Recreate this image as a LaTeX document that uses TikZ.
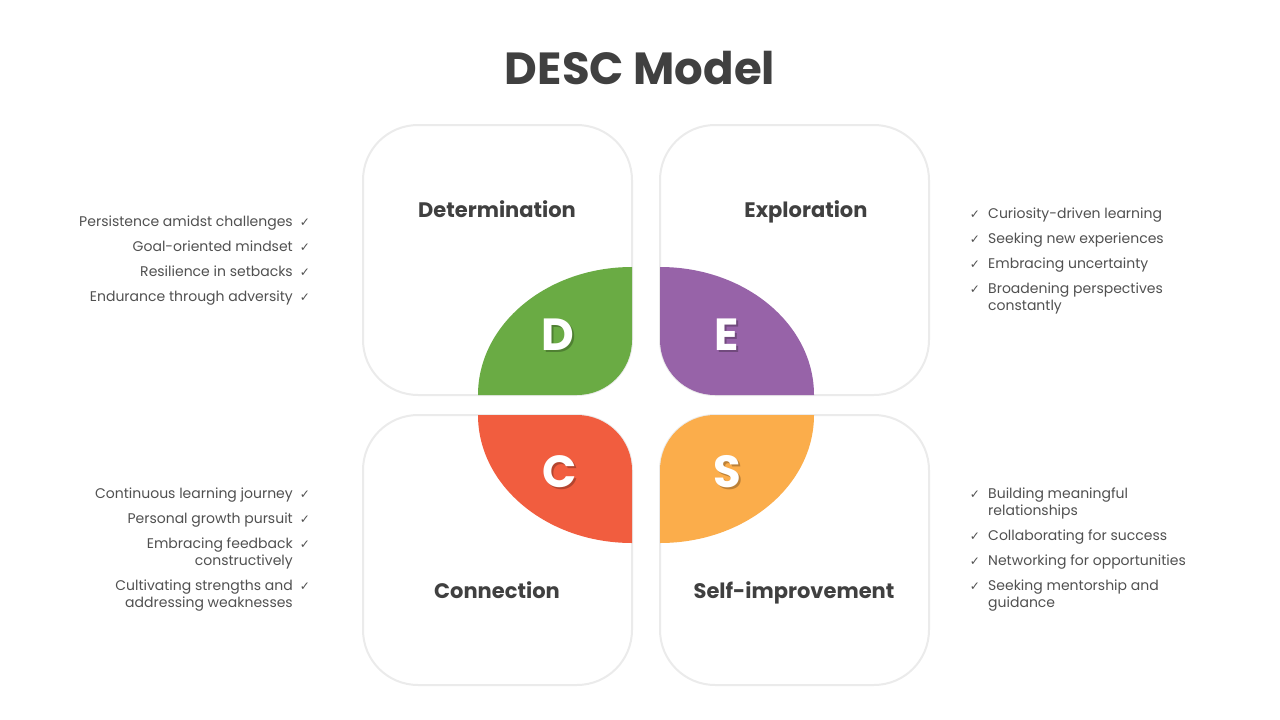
\documentclass[tikz,border=0pt]{standalone}
\usepackage{fontspec}
\setmainfont{Poppins}
\newfontfamily\symfont{DejaVu Sans}
\usetikzlibrary{positioning}
\definecolor{dgreen}{HTML}{6AAB44}
\definecolor{dpurple}{HTML}{9763A8}
\definecolor{dred}{HTML}{F15D3F}
\definecolor{dorange}{HTML}{FBAD4B}
\definecolor{inkgray}{HTML}{404040}
\definecolor{itemgray}{HTML}{505050}
\tikzstyle{card}= [draw=black!8, line width=2pt, fill=white, rounded corners=55pt]
\tikzstyle{letter}= [text=white, font=\fontsize{45}{45}\selectfont\bfseries]
\tikzstyle{lshade}= [text=black, opacity=0.25, font=\fontsize{45}{45}\selectfont\bfseries]
\tikzstyle{head}= [anchor=base, text=inkgray, font=\fontsize{21}{24}\selectfont\bfseries]
\tikzstyle{itemL}= [anchor=north east, align=right, inner sep=0pt, text=itemgray, font=\fontsize{14}{17}\selectfont]
\tikzstyle{itemR}= [anchor=north west, align=left, inner sep=0pt, text=itemgray, font=\fontsize{14}{17}\selectfont]
\tikzstyle{tick}= [inner sep=0pt, text=itemgray, font=\symfont\fontsize{12}{12}\selectfont]

\begin{document}
\begin{tikzpicture}[x=1pt,y=-1pt]
\useasboundingbox (0,0) rectangle (1280,720);
\node[anchor=base, text=inkgray, font=\fontsize{45}{48}\selectfont\bfseries] (title) at (640,84) {DESC Model};

% four cards
\draw[card] (363,125) rectangle (632,395);
\draw[card] (660,125) rectangle (929,395);
\draw[card] (363,415) rectangle (632,685);
\draw[card] (660,415) rectangle (929,685);

% petals
\fill[dgreen] (478,395) .. controls (478,324.3) and (546.9,267) .. (632,267) -- (632,340) .. controls (632,370.4) and (607.4,395) .. (577,395) -- cycle;
\fill[dpurple] (814,395) .. controls (814,324.3) and (745.1,267) .. (660,267) -- (660,340) .. controls (660,370.4) and (684.6,395) .. (715,395) -- cycle;
\fill[dred] (478,415) .. controls (478,485.7) and (546.9,543) .. (632,543) -- (632,470) .. controls (632,439.6) and (607.4,415) .. (577,415) -- cycle;
\fill[dorange] (814,415) .. controls (814,485.7) and (745.1,543) .. (660,543) -- (660,470) .. controls (660,439.6) and (684.6,415) .. (715,415) -- cycle;

\node[lshade] at (560,337) {D};
\node[letter] (d) at (558,335) {D};
\node[lshade] at (729,337) {E};
\node[letter] (e) at (727,335) {E};
\node[lshade] at (562,474) {C};
\node[letter] (c) at (560,472) {C};
\node[lshade] at (729,474) {S};
\node[letter] (s) at (727,472) {S};

\node[head] (hd) at (497,217) {Determination};
\node[head] (he) at (806,217) {Exploration};
\node[head] (hc) at (497,598) {Connection};
\node[head] (hs) at (794,598) {Self-improvement};

% left lists
\node[itemL] (d1) at (293,216) {Persistence amidst challenges};
\node[itemL] (d2) at (293,241) {Goal-oriented mindset};
\node[itemL] (d3) at (293,266) {Resilience in setbacks};
\node[itemL] (d4) at (293,291) {Endurance through adversity};
\node[tick] at (305,223) {✓};
\node[tick] at (305,248) {✓};
\node[tick] at (305,273) {✓};
\node[tick] at (305,298) {✓};

\node[itemL] (c1) at (293,488) {Continuous learning journey};
\node[itemL] (c2) at (293,513) {Personal growth pursuit};
\node[itemL] (c3) at (293,538) {Embracing feedback\\constructively};
\node[itemL] (c4) at (293,580) {Cultivating strengths and\\addressing weaknesses};
\node[tick] at (305,495) {✓};
\node[tick] at (305,520) {✓};
\node[tick] at (305,545) {✓};
\node[tick] at (305,587) {✓};

% right lists
\node[itemR] (e1) at (988,208) {Curiosity-driven learning};
\node[itemR] (e2) at (988,233) {Seeking new experiences};
\node[itemR] (e3) at (988,258) {Embracing uncertainty};
\node[itemR] (e4) at (988,283) {Broadening perspectives\\constantly};
\node[tick] at (975,215) {✓};
\node[tick] at (975,240) {✓};
\node[tick] at (975,265) {✓};
\node[tick] at (975,290) {✓};

\node[itemR] (s1) at (988,488) {Building meaningful\\relationships};
\node[itemR] (s2) at (988,530) {Collaborating for success};
\node[itemR] (s3) at (988,555) {Networking for opportunities};
\node[itemR] (s4) at (988,580) {Seeking mentorship and\\guidance};
\node[tick] at (975,495) {✓};
\node[tick] at (975,537) {✓};
\node[tick] at (975,562) {✓};
\node[tick] at (975,587) {✓};
\end{tikzpicture}
\end{document}
